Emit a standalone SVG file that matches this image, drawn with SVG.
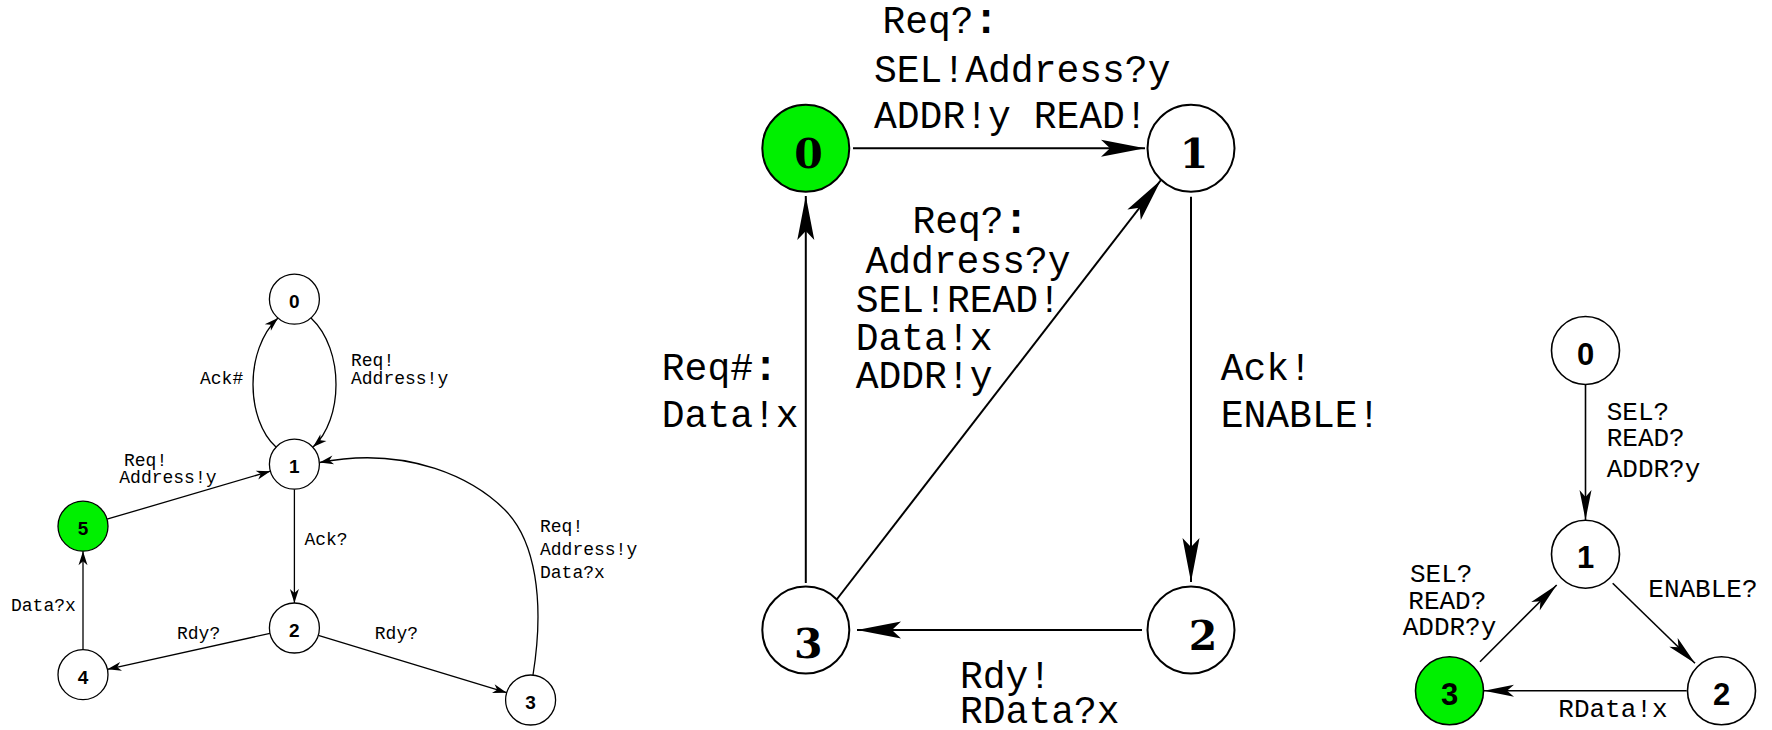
<svg xmlns="http://www.w3.org/2000/svg" width="1772" height="730" viewBox="0 0 1772 730">
  <style>
    .bg { fill: #ffffff; }
    .st { fill: #ffffff; stroke: #000; }
    .init { fill: #00f000; stroke: #000; }
    .s1 .st, .s1 .init { stroke-width: 1.3; }
    .s2 .st, .s2 .init { stroke-width: 2; }
    .s3 .st, .s3 .init { stroke-width: 1.6; }
    .edge { fill: none; stroke: #000; }
    .e1 { stroke-width: 1.3; marker-end: url(#arrS); }
    .e2 { stroke-width: 2; marker-end: url(#arrL); }
    .e3 { stroke-width: 1.6; marker-end: url(#arrM); }
    .num1 { font-family: "Liberation Sans", Arial, sans-serif; font-weight: bold; font-size: 19px; text-anchor: middle; }
    .num2 { font-family: "DejaVu Serif", "Liberation Serif", serif; font-weight: bold; font-size: 41px; text-anchor: middle; }
    .num3 { font-family: "Liberation Sans", Arial, sans-serif; font-weight: bold; font-size: 31px; text-anchor: middle; }
    .lab { font-family: "Liberation Mono", "Courier New", monospace; fill: #000; }
    .l1 { font-size: 18px; }
    .l2 { font-size: 38px; }
    .l3 { font-size: 26px; }
    .colon { font-weight: bold; font-size: 42px; }
  </style>
  <defs>
    <marker id="arrS" viewBox="-15 -6 16 12" refX="0" refY="0" markerWidth="16" markerHeight="12" markerUnits="userSpaceOnUse" orient="auto">
      <path d="M0,0 L-14,-4.5 L-10,0 L-14,4.5 Z" fill="#000"/>
    </marker>
    <marker id="arrL" viewBox="-46 -10 47 20" refX="0" refY="0" markerWidth="47" markerHeight="20" markerUnits="userSpaceOnUse" orient="auto">
      <path d="M0,0 L-44,-8.5 L-35,0 L-44,8.5 Z" fill="#000"/>
    </marker>
    <marker id="arrM" viewBox="-31 -7 32 14" refX="0" refY="0" markerWidth="32" markerHeight="14" markerUnits="userSpaceOnUse" orient="auto">
      <path d="M0,0 L-30,-6 L-23,0 L-30,6 Z" fill="#000"/>
    </marker>
  </defs>

  <rect class="bg" x="0" y="0" width="1772" height="730"/>

  <!-- Left automaton -->
  <g id="left-edges" class="edges">
    <path class="edge e1" d="M276,447 C246,420 244,350 278,318"/>
    <path class="edge e1" d="M311,318 C345,350 343,420 313,447"/>
    <path class="edge e1" d="M107,519.2 L270.4,471.2"/>
    <path class="edge e1" d="M294.4,489.2 L294.4,603"/>
    <path class="edge e1" d="M83,649.7 L83,551.2"/>
    <path class="edge e1" d="M270,633.4 L107.4,669.3"/>
    <path class="edge e1" d="M318.3,635.3 L506.7,692.7"/>
    <path class="edge e1" d="M533,675 C545,600 535,540 505,510 S410,445 319.5,462.5"/>
  </g>
  <g id="left-labels" class="lab l1">
    <text x="200" y="384">Ack#</text>
    <text x="351" y="365.7">Req!</text>
    <text x="351" y="384">Address!y</text>
    <text x="124" y="466">Req!</text>
    <text x="119.3" y="483.3">Address!y</text>
    <text x="304.4" y="545">Ack?</text>
    <text x="11" y="610.7">Data?x</text>
    <text x="177" y="639">Rdy?</text>
    <text x="374.8" y="639">Rdy?</text>
    <text x="540" y="531.7">Req!</text>
    <text x="540" y="555">Address!y</text>
    <text x="540" y="578.3">Data?x</text>
  </g>
  <g class="s1">
    <g id="L0"><circle class="st" cx="294.4" cy="299.2" r="25"/><text class="num1" x="294.4" y="308">0</text></g>
    <g id="L1"><circle class="st" cx="294.4" cy="464.2" r="25"/><text class="num1" x="294.4" y="473">1</text></g>
    <g id="L2"><circle class="st" cx="294.4" cy="628" r="25"/><text class="num1" x="294.4" y="637">2</text></g>
    <g id="L3"><circle class="st" cx="530.6" cy="700" r="25"/><text class="num1" x="530.6" y="709">3</text></g>
    <g id="L4"><circle class="st" cx="83" cy="674.7" r="25"/><text class="num1" x="83" y="683.5">4</text></g>
    <g id="L5"><circle class="init" cx="83" cy="526.2" r="25"/><text class="num1" x="83" y="535">5</text></g>
  </g>

  <!-- Middle automaton -->
  <g id="mid-edges" class="edges">
    <path class="edge e2" d="M853,148.3 L1145,148.3"/>
    <path class="edge e2" d="M805.8,583 L805.8,196"/>
    <path class="edge e2" d="M1191,196.7 L1191,582"/>
    <path class="edge e2" d="M1142,630 L857,630"/>
    <path class="edge e2" d="M836.3,600 L1161,180"/>
  </g>
  <g id="mid-labels" class="lab l2">
    <text x="882.4" y="33.3">Req?<tspan class="colon">:</tspan></text>
    <text x="874" y="81.7">SEL!Address?y</text>
    <text x="874" y="128.3">ADDR!y READ!</text>
    <text x="912.4" y="233.3">Req?<tspan class="colon">:</tspan></text>
    <text x="865.4" y="273.3">Address?y</text>
    <text x="855.7" y="311.7">SEL!READ!</text>
    <text x="855.7" y="350">Data!x</text>
    <text x="855.7" y="388.3">ADDR!y</text>
    <text x="661.8" y="380">Req#<tspan class="colon">:</tspan></text>
    <text x="661.8" y="426.7">Data!x</text>
    <text x="1220.7" y="380">Ack!</text>
    <text x="1220.7" y="426.7">ENABLE!</text>
    <text x="960" y="688.3">Rdy!</text>
    <text x="960" y="723">RData?x</text>
  </g>
  <g class="s2">
    <g id="M0"><circle class="init" cx="805.8" cy="148.3" r="43.5"/><text class="num2" x="808.5" y="167.7">0</text></g>
    <g id="M1"><circle class="st" cx="1191" cy="148.3" r="43.5"/><text class="num2" x="1194" y="167.7">1</text></g>
    <g id="M2"><circle class="st" cx="1191" cy="630" r="43.5"/><text class="num2" x="1203" y="650">2</text></g>
    <g id="M3"><circle class="st" cx="805.8" cy="630" r="43.5"/><text class="num2" x="808.3" y="657.7">3</text></g>
  </g>

  <!-- Right automaton -->
  <g id="right-edges" class="edges">
    <path class="edge e3" d="M1585.5,384.5 L1585.5,520"/>
    <path class="edge e3" d="M1612.7,583.3 L1695,663.3"/>
    <path class="edge e3" d="M1686.7,690.8 L1484,690.8"/>
    <path class="edge e3" d="M1480,661.7 L1556.7,585"/>
  </g>
  <g id="right-labels" class="lab l3">
    <text x="1606.7" y="420">SEL?</text>
    <text x="1606.7" y="445.7">READ?</text>
    <text x="1606.7" y="476.7">ADDR?y</text>
    <text x="1648.3" y="596.7">ENABLE?</text>
    <text x="1410" y="581.7">SEL?</text>
    <text x="1408.3" y="609.3">READ?</text>
    <text x="1402.7" y="635">ADDR?y</text>
    <text x="1558.3" y="716.7">RData!x</text>
  </g>
  <g class="s3">
    <g id="R0"><circle class="st" cx="1585.5" cy="350.5" r="34"/><text class="num3" x="1585.5" y="364.5">0</text></g>
    <g id="R1"><circle class="st" cx="1585.5" cy="554.2" r="34"/><text class="num3" x="1585.5" y="568">1</text></g>
    <g id="R2"><circle class="st" cx="1721.5" cy="690.8" r="34"/><text class="num3" x="1721.5" y="704.5">2</text></g>
    <g id="R3"><circle class="init" cx="1449.5" cy="690.8" r="34"/><text class="num3" x="1449.5" y="704.5">3</text></g>
  </g>
</svg>
